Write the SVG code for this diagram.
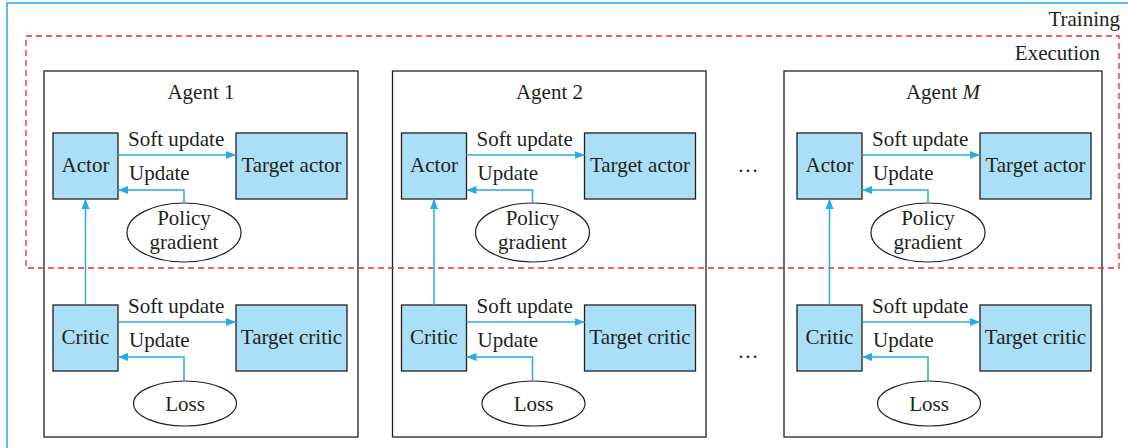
<svg xmlns="http://www.w3.org/2000/svg" width="1128" height="448" viewBox="0 0 1128 448">
<style>
text{font-family:"Liberation Serif","Times New Roman",serif;font-size:21px;fill:#231f20}
.c{text-anchor:middle}
.e{text-anchor:end}
.agent{fill:#fff;stroke:#231f20;stroke-width:1.3}
.blk{fill:#abdff8;stroke:#231f20;stroke-width:1.3}
.ell{fill:#fff;stroke:#231f20;stroke-width:1.2}
.con{fill:none;stroke:#29abe2;stroke-width:1.5}
</style>
<defs>
<marker id="ah" viewBox="0 0 10 8" refX="10" refY="4" markerWidth="10" markerHeight="8" markerUnits="userSpaceOnUse" orient="auto">
<path d="M0,0 L10,4 L0,8 Z" fill="#29abe2"/>
</marker>
</defs>
<g id="training">
<rect x="7" y="3" width="1130" height="460" fill="#fff" stroke="#29abe2" stroke-width="1.5"/>
<text class="e" x="1120" y="26">Training</text>
</g>

<g id="agent-boxes">
<rect class="agent" x="44" y="71" width="314" height="366"/>
<rect class="agent" x="392.5" y="71" width="313.5" height="366"/>
<rect class="agent" x="784" y="71" width="318" height="366"/>
</g>

<g id="execution">
<rect fill="none" stroke="#ee2a2a" stroke-width="1.3" stroke-dasharray="6,4" x="26" y="36" width="1093" height="232"/>
<text class="e" x="1100" y="60">Execution</text>
</g>

<g id="agent1">
<text class="c" x="201" y="99">Agent 1</text>
<g id="a1-actor"><rect class="blk" x="53" y="133" width="65" height="66"/><text class="c" x="85.5" y="172">Actor</text></g>
<g id="a1-target-actor"><rect class="blk" x="236" y="133" width="111" height="66"/><text class="c" x="291.5" y="172">Target actor</text></g>
<g id="a1-pg"><ellipse class="ell" cx="184" cy="232.5" rx="57" ry="29.5"/><text class="c" x="184" y="225">Policy</text><text class="c" x="184" y="249">gradient</text></g>
<g id="a1-critic"><rect class="blk" x="53" y="305" width="65" height="66"/><text class="c" x="85.5" y="344">Critic</text></g>
<g id="a1-target-critic"><rect class="blk" x="236" y="305" width="111" height="66"/><text class="c" x="291.5" y="344">Target critic</text></g>
<g id="a1-loss"><ellipse class="ell" cx="185" cy="403.5" rx="51.5" ry="22.5"/><text class="c" x="185" y="411">Loss</text></g>
</g>

<g id="agent2" transform="translate(348.5,0)">
<text class="c" x="201" y="99">Agent 2</text>
<g id="a2-actor"><rect class="blk" x="53" y="133" width="65" height="66"/><text class="c" x="85.5" y="172">Actor</text></g>
<g id="a2-target-actor"><rect class="blk" x="236" y="133" width="111" height="66"/><text class="c" x="291.5" y="172">Target actor</text></g>
<g id="a2-pg"><ellipse class="ell" cx="184" cy="232.5" rx="57" ry="29.5"/><text class="c" x="184" y="225">Policy</text><text class="c" x="184" y="249">gradient</text></g>
<g id="a2-critic"><rect class="blk" x="53" y="305" width="65" height="66"/><text class="c" x="85.5" y="344">Critic</text></g>
<g id="a2-target-critic"><rect class="blk" x="236" y="305" width="111" height="66"/><text class="c" x="291.5" y="344">Target critic</text></g>
<g id="a2-loss"><ellipse class="ell" cx="185" cy="403.5" rx="51.5" ry="22.5"/><text class="c" x="185" y="411">Loss</text></g>
</g>

<g id="agentM" transform="translate(744,0)">
<text class="c" x="199" y="99">Agent <tspan font-style="italic">M</tspan></text>
<g id="aM-actor"><rect class="blk" x="53" y="133" width="65" height="66"/><text class="c" x="85.5" y="172">Actor</text></g>
<g id="aM-target-actor"><rect class="blk" x="236" y="133" width="111" height="66"/><text class="c" x="291.5" y="172">Target actor</text></g>
<g id="aM-pg"><ellipse class="ell" cx="184" cy="232.5" rx="57" ry="29.5"/><text class="c" x="184" y="225">Policy</text><text class="c" x="184" y="249">gradient</text></g>
<g id="aM-critic"><rect class="blk" x="53" y="305" width="65" height="66"/><text class="c" x="85.5" y="344">Critic</text></g>
<g id="aM-target-critic"><rect class="blk" x="236" y="305" width="111" height="66"/><text class="c" x="291.5" y="344">Target critic</text></g>
<g id="aM-loss"><ellipse class="ell" cx="185" cy="403.5" rx="51.5" ry="22.5"/><text class="c" x="185" y="411">Loss</text></g>
</g>

<text class="c" x="748" y="172">…</text>
<text class="c" x="748" y="358">…</text>

<g id="connectors">
<g id="c1">
<path class="con" d="M118,155 H236" marker-end="url(#ah)"/>
<path class="con" d="M184,203 V190 H118" marker-end="url(#ah)"/>
<path class="con" d="M85.5,305 V199" marker-end="url(#ah)"/>
<path class="con" d="M118,322 H236" marker-end="url(#ah)"/>
<path class="con" d="M184,381 V357 H118" marker-end="url(#ah)"/>
<text x="128" y="146">Soft update</text><text x="129" y="180">Update</text>
<text x="128" y="313">Soft update</text><text x="129" y="347">Update</text>
</g>
<g id="c2" transform="translate(348.5,0)">
<path class="con" d="M118,155 H236" marker-end="url(#ah)"/>
<path class="con" d="M184,203 V190 H118" marker-end="url(#ah)"/>
<path class="con" d="M85.5,305 V199" marker-end="url(#ah)"/>
<path class="con" d="M118,322 H236" marker-end="url(#ah)"/>
<path class="con" d="M184,381 V357 H118" marker-end="url(#ah)"/>
<text x="128" y="146">Soft update</text><text x="129" y="180">Update</text>
<text x="128" y="313">Soft update</text><text x="129" y="347">Update</text>
</g>
<g id="cM" transform="translate(744,0)">
<path class="con" d="M118,155 H236" marker-end="url(#ah)"/>
<path class="con" d="M184,203 V190 H118" marker-end="url(#ah)"/>
<path class="con" d="M85.5,305 V199" marker-end="url(#ah)"/>
<path class="con" d="M118,322 H236" marker-end="url(#ah)"/>
<path class="con" d="M184,381 V357 H118" marker-end="url(#ah)"/>
<text x="128" y="146">Soft update</text><text x="129" y="180">Update</text>
<text x="128" y="313">Soft update</text><text x="129" y="347">Update</text>
</g>
</g>
</svg>
